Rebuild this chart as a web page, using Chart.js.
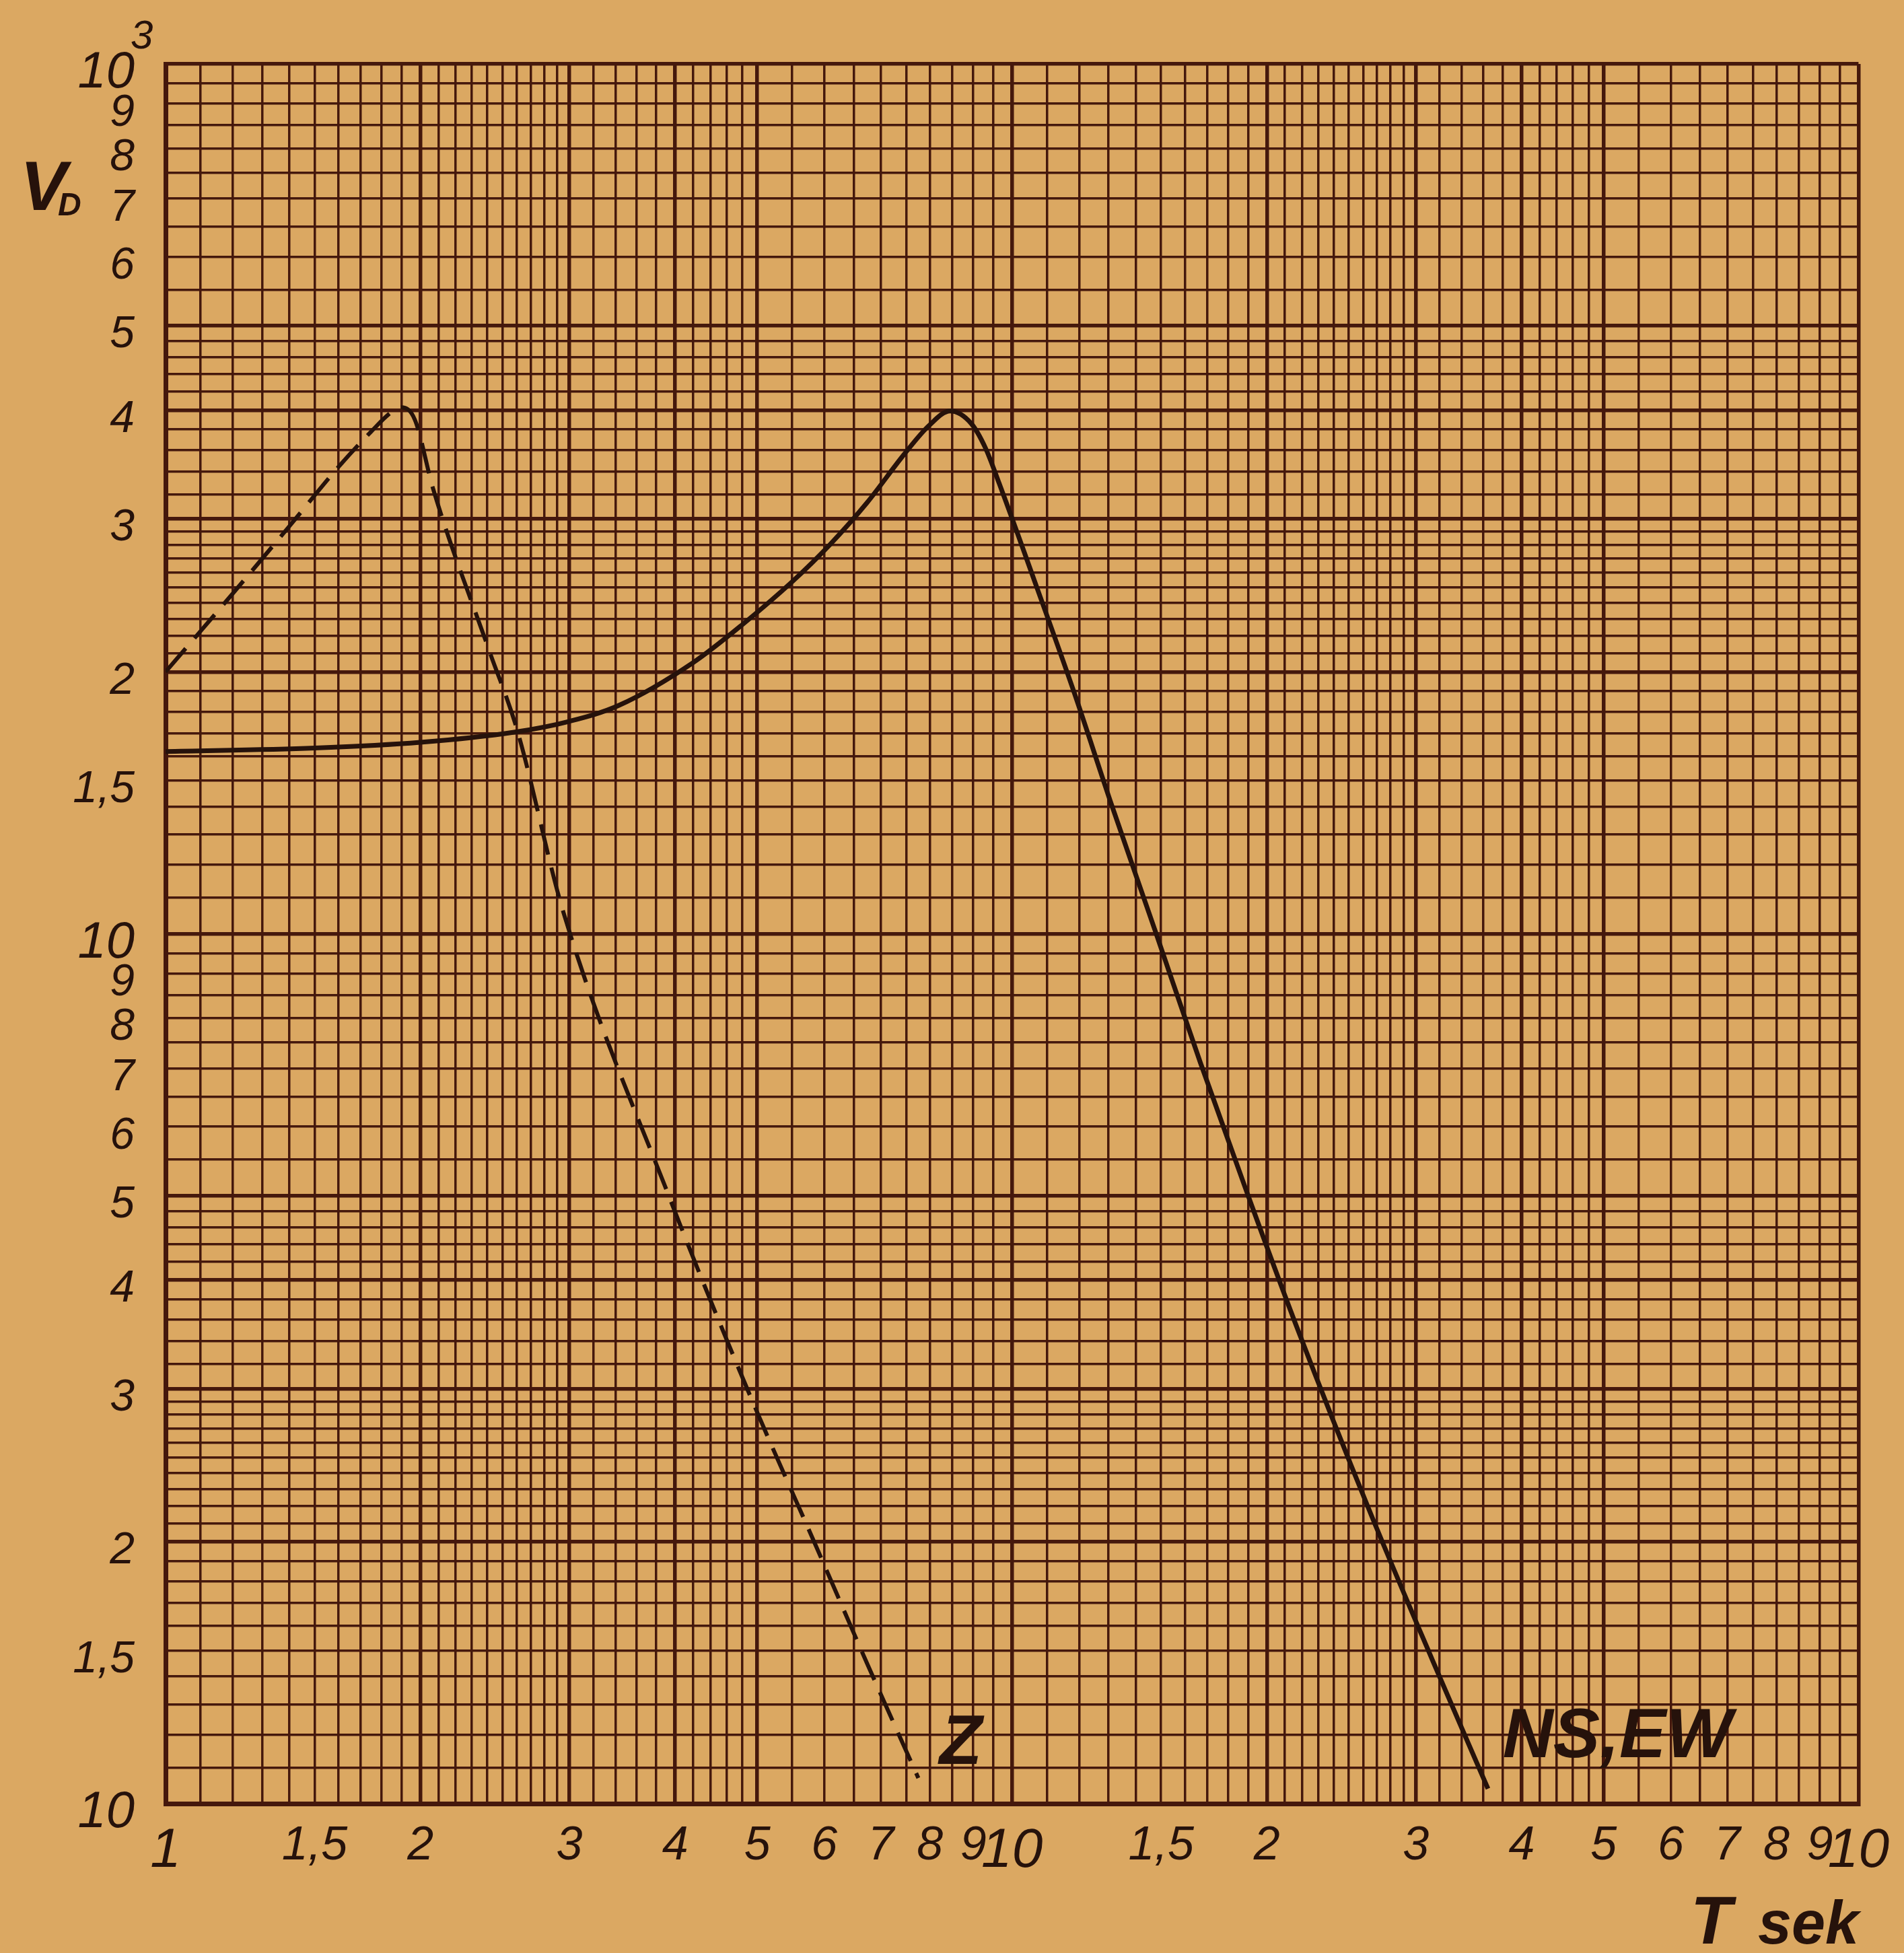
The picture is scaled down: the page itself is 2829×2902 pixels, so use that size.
<!DOCTYPE html>
<html>
<head>
<meta charset="utf-8">
<script src="https://cdn.jsdelivr.net/npm/chart.js@4.4.1/dist/chart.umd.min.js"></script>
<style>
  html, body { margin: 0; padding: 0; background: #dba862; }
  #wrap { width: 2829px; height: 2902px; }
</style>
</head>
<body>
<div id="wrap"><canvas id="chart" width="2829" height="2902"></canvas></div>
<script>
// period T (sek) and V_D
var ns_T = [1, 1.5, 2, 2.58, 3, 3.43, 4.2, 4.81, 5.5, 6.09, 6.74, 7.46, 7.98, 8.45, 8.95, 9.3, 9.65, 10.7, 11.85, 13.1, 14.75, 16.7, 18.95, 21.7, 26.5, 31.4, 36.5];
var ns_V = [162, 163.5, 166, 170.5, 175.5, 183, 205, 227, 254, 280, 313, 356, 384, 399, 386, 362, 330, 250, 189, 141, 101, 71, 50.4, 35.3, 21.6, 14.6, 10.4];
var z_T = [1, 1.2, 1.4, 1.6, 1.75, 1.85, 1.9, 1.97, 2.07, 2.41, 2.6, 2.95, 3.93, 4.9, 5.89, 6.74, 7.75];
var z_V = [200, 246, 294, 344, 378, 398, 403, 390, 325, 212, 172, 106, 50, 29.5, 19.6, 14.5, 10.7];

// graph paper rulings inside one decade
var grid_mant = [1, 1.1, 1.2, 1.3, 1.4, 1.5, 1.6, 1.7, 1.8, 1.9, 2, 2.1, 2.2, 2.3, 2.4, 2.5, 2.6, 2.7, 2.8, 2.9,
                 3, 3.2, 3.4, 3.6, 3.8, 4, 4.2, 4.4, 4.6, 4.8, 5, 5.5, 6, 6.5, 7, 7.5, 8, 8.5, 9, 9.5];
var heavy_mant = [1, 2, 3, 4, 5, 10];

var x_tick_vals = [1, 1.5, 2, 3, 4, 5, 6, 7, 8, 9, 10, 15, 20, 30, 40, 50, 60, 70, 80, 90, 100];
var x_tick_text = ['1', '1,5', '2', '3', '4', '5', '6', '7', '8', '9', '10', '1,5', '2', '3', '4', '5', '6', '7', '8', '9', '10'];
var y_tick_vals = [10, 15, 20, 30, 40, 50, 60, 70, 80, 90, 100, 150, 200, 300, 400, 500, 600, 700, 800, 900, 1000];
var y_tick_text = ['10', '1,5', '2', '3', '4', '5', '6', '7', '8', '9', '10', '1,5', '2', '3', '4', '5', '6', '7', '8', '9', '10'];

var curve_labels = [
  { text: 'Z', T: 8.7, V: 11.7 },
  { text: 'NS,EW', T: 51.9, V: 11.9 }
];

var INK = '#26120b';
var RULE = '#45180c';

function gridValues(lo, hi) {
  var out = [];
  for (var d = lo; d < hi; d *= 10) {
    grid_mant.forEach(function (m) { out.push(+(m * d).toPrecision(6)); });
  }
  out.push(hi);
  return out;
}

function isHeavy(v) {
  var m = v / Math.pow(10, Math.floor(Math.log10(v) + 1e-9));
  m = +m.toFixed(4);
  return heavy_mant.indexOf(m) >= 0;
}

function labelFor(vals, texts, v) {
  for (var i = 0; i < vals.length; i++) {
    if (Math.abs(vals[i] - v) / vals[i] < 1e-6) return texts[i];
  }
  return '';
}

function isDecade(v) {
  var l = Math.log10(v);
  return Math.abs(l - Math.round(l)) < 1e-6;
}

var extras = {
  id: 'extras',
  afterDraw: function (chart) {
    var ctx = chart.ctx;
    var xs = chart.scales.x, ys = chart.scales.y;
    ctx.save();
    ctx.fillStyle = INK;
    // curve names
    ctx.font = 'italic bold 104px "Liberation Sans Narrow", "Liberation Sans", sans-serif';
    ctx.textAlign = 'center';
    ctx.textBaseline = 'middle';
    curve_labels.forEach(function (c) {
      ctx.fillText(c.text, xs.getPixelForValue(c.T), ys.getPixelForValue(c.V));
    });
    ctx.textAlign = 'left';
    ctx.textBaseline = 'alphabetic';
    // axis name V_D
    ctx.font = 'italic bold 104px "Liberation Sans", sans-serif';
    ctx.fillText('V', 30, 312);
    ctx.font = 'italic bold 48px "Liberation Sans", sans-serif';
    ctx.fillText('D', 86, 320);
    // axis name T sek
    ctx.font = 'italic bold 100px "Liberation Sans", sans-serif';
    ctx.fillText('T', 2512, 2888);
    ctx.font = 'italic bold 90px "Liberation Sans", sans-serif';
    ctx.fillText('sek', 2612, 2888);
    // exponent on the top label
    ctx.font = 'italic 60px "Liberation Sans", sans-serif';
    ctx.fillText('3', 194, 72);
    ctx.restore();
  }
};

new Chart(document.getElementById('chart'), {
  type: 'line',
  data: {
    datasets: [
      {
        label: 'NS,EW',
        data: ns_T.map(function (t, i) { return { x: t, y: ns_V[i] }; }),
        borderColor: INK,
        borderWidth: 7,
        pointRadius: 0,
        cubicInterpolationMode: 'monotone',
        fill: false
      },
      {
        label: 'Z',
        data: z_T.map(function (t, i) { return { x: t, y: z_V[i] }; }),
        borderColor: INK,
        borderWidth: 6,
        borderDash: [46, 20],
        pointRadius: 0,
        cubicInterpolationMode: 'monotone',
        fill: false
      }
    ]
  },
  options: {
    responsive: false,
    animation: false,
    layout: { padding: { left: 0, top: 95, right: 52, bottom: 0 } },
    plugins: {
      legend: { display: false },
      tooltip: { enabled: false }
    },
    scales: {
      x: {
        type: 'logarithmic',
        min: 1,
        max: 100,
        afterBuildTicks: function (s) { s.ticks = gridValues(1, 100).map(function (v) { return { value: v }; }); },
        afterFit: function (s) { s.height = 222; },
        grid: {
          color: RULE,
          lineWidth: function (c) { return isHeavy(c.tick.value) ? 5.5 : 3.5; },
          drawTicks: false
        },
        border: { color: RULE, width: 7 },
        ticks: {
          autoSkip: false,
          maxRotation: 0,
          padding: 22,
          color: INK,
          font: function (c) {
            var big = c.tick && isDecade(c.tick.value);
            return { family: '"Liberation Sans", sans-serif', style: 'italic', size: big ? 82 : 70 };
          },
          callback: function (v) { return labelFor(x_tick_vals, x_tick_text, v); }
        }
      },
      y: {
        type: 'logarithmic',
        min: 10,
        max: 1000,
        afterBuildTicks: function (s) { s.ticks = gridValues(10, 1000).map(function (v) { return { value: v }; }); },
        afterFit: function (s) { s.width = 246; },
        grid: {
          color: RULE,
          lineWidth: function (c) { return isHeavy(c.tick.value) ? 5.5 : 3.5; },
          drawTicks: false
        },
        border: { color: RULE, width: 7 },
        ticks: {
          autoSkip: false,
          padding: 46,
          labelOffset: 14,
          color: INK,
          font: function (c) {
            var big = c.tick && isDecade(c.tick.value);
            return { family: '"Liberation Sans", sans-serif', style: 'italic', size: big ? 76 : 66 };
          },
          callback: function (v) { return labelFor(y_tick_vals, y_tick_text, v); }
        }
      }
    }
  },
  plugins: [extras]
});
</script>
</body>
</html>
